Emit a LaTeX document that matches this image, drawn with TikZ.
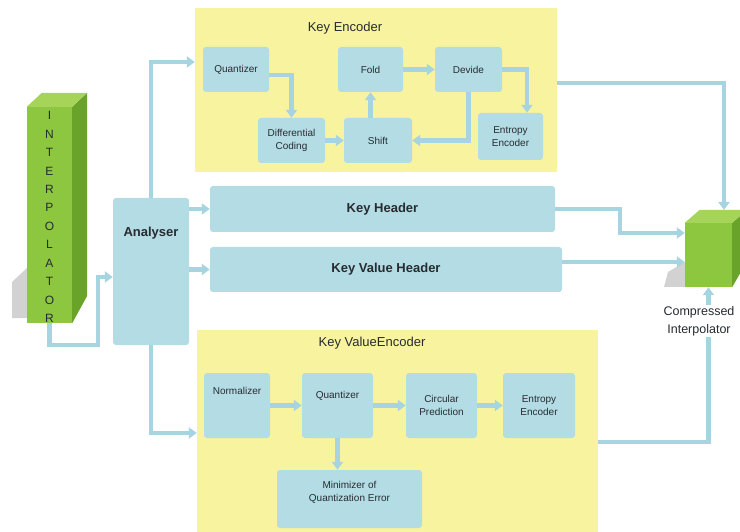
\documentclass[tikz,border=0pt]{standalone}
\usepackage{fontspec}
\setmainfont{Liberation Sans}
\usetikzlibrary{arrows.meta}
\definecolor{panelyellow}{RGB}{248,243,158}
\definecolor{blkblue}{RGB}{180,220,229}
\definecolor{flowblue}{RGB}{166,213,225}
\definecolor{greenfront}{RGB}{141,198,63}
\definecolor{greenside}{RGB}{106,163,42}
\definecolor{greentop}{RGB}{165,212,88}
\definecolor{txt}{RGB}{38,44,48}

\begin{document}
\begin{tikzpicture}[x=1pt,y=-1pt,
   blk/.style={fill=blkblue,rounded corners=3pt,inner sep=2pt,align=center,
     text=txt,font=\fontsize{10}{13}\selectfont},
   panel/.style={fill=panelyellow,inner sep=0pt},
   head/.style={fill=blkblue,rounded corners=3pt,text=txt,font=\fontsize{13}{15}\selectfont\bfseries},
   ttl/.style={text=txt,font=\fontsize{13}{15}\selectfont},
   flow/.style={draw=flowblue,line width=4.5pt,-{Triangle[width=11pt,length=8pt]}}]
   \useasboundingbox (0,0) rectangle (740,532);
   \clip (0,0) rectangle (740,532);

   % interpolator column
   \fill[gray!35] (27,268) -- (12,282) -- (12,318) -- (27,318) -- cycle;
   \node[fill=greenfront,minimum width=45pt,minimum height=216pt,inner sep=0pt] (interp) at (49.5,215) {};
   \fill[greenside] (interp.north east) -- ++(15,-14) -- ++(0,203) -- (interp.south east) -- cycle;
   \fill[greentop] (interp.north west) -- ++(15,-14) -- ++(45,0) -- (interp.north east) -- cycle;
   \node[text=txt,align=center,font=\fontsize{12}{18.45}\selectfont] (interptext) at (49.5,217)
     {I\\N\\T\\E\\R\\P\\O\\L\\A\\T\\O\\R};

   % compressed interpolator
   \fill[gray!35] (685,262) -- (668,272) -- (664,287) -- (685,287) -- cycle;
   \node[fill=greenfront,minimum width=47pt,minimum height=64pt,inner sep=0pt] (cube) at (708.5,255) {};
   \fill[greenside] (cube.north east) -- ++(15,-13) -- ++(0,51) -- (cube.south east) -- cycle;
   \fill[greentop] (cube.north west) -- ++(15,-13) -- ++(47,0) -- (cube.north east) -- cycle;
   \coordinate (cubetop) at (724,210);

   % panels
   \node[panel,minimum width=362pt,minimum height=164pt] (kenc) at (376,90) {};
   \node[ttl] (kenctitle) at (345,28) {Key Encoder};
   \node[panel,minimum width=401pt,minimum height=215pt] (kvenc) at (397.5,437.5) {};
   \node[ttl] (kvenctitle) at (372,343) {Key ValueEncoder};

   % analyser and headers
   \node[head,minimum width=76pt,minimum height=147pt,text depth=80pt] (analyser) at (151,271.5) {Analyser};
   \node[head,minimum width=345pt,minimum height=46pt] (khead) at (382.5,209) {Key Header};
   \node[head,minimum width=352pt,minimum height=45pt] (kvhead) at (386,269.5) {Key Value Header};

   % key encoder blocks
   \node[blk,minimum width=66pt,minimum height=45pt] (kq) at (236,69.5) {Quantizer};
   \node[blk,minimum width=65pt,minimum height=45pt] (kfold) at (370.5,69.5) {Fold};
   \node[blk,minimum width=67pt,minimum height=45pt] (kdev) at (468.5,69.5) {Devide};
   \node[blk,minimum width=67pt,minimum height=45pt] (kdiff) at (291.5,140.5) {Differential\\Coding};
   \node[blk,minimum width=68pt,minimum height=45pt] (kshift) at (378,140.5) {Shift};
   \node[blk,minimum width=65pt,minimum height=47pt] (kent) at (510.5,136.5) {Entropy\\Encoder};

   % key value encoder blocks
   \node[blk,minimum width=66pt,minimum height=65pt,text depth=30pt] (vn) at (237,405.5) {Normalizer};
   \node[blk,minimum width=71pt,minimum height=65pt,text depth=22pt] (vq) at (337.5,405.5) {Quantizer};
   \node[blk,minimum width=71pt,minimum height=65pt] (vc) at (441.5,405.5) {Circular\\Prediction};
   \node[blk,minimum width=72pt,minimum height=65pt] (ve) at (539,405.5) {Entropy\\Encoder};
   \node[blk,minimum width=145pt,minimum height=58pt,text depth=16pt] (vm) at (349.5,499) {Minimizer of\\Quantization Error};

   % connectors
   \draw[flow] (interp.south) |- (98,345) |- (analyser.west |- 0,277);
   \draw[flow] (analyser.north) |- (kenc.west |- 0,62);
   \draw[flow] (analyser.south) |- (kvenc.west |- 0,433);
   \draw[flow] (analyser.east |- khead.west) -- (khead.west);
   \draw[flow] (analyser.east |- kvhead.west) -- (kvhead.west);

   \draw[flow] (kq.east |- 0,75) -| (kdiff.north);
   \draw[flow] (kdiff.east) -- (kshift.west);
   \draw[flow] (kfold.south |- kshift.north) -- (kfold.south);
   \draw[flow] (kfold.east) -- (kdev.west);
   \draw[flow] (kdev.east) -| (kent.north -| 527,0);
   \draw[flow] (kdev.south) |- (kshift.east);

   \draw[flow] (vn.east) -- (vq.west);
   \draw[flow] (vq.east) -- (vc.west);
   \draw[flow] (vc.east) -- (ve.west);
   \draw[flow] (vq.south) -- (vq.south |- vm.north);

   \draw[flow] (kenc.east |- 0,83) -| (cubetop);
   \draw[flow] (khead.east) -| (620,233) -- (cube.west |- 0,233);
   \draw[flow] (kvhead.east |- 0,262) -- (cube.west |- 0,262);
   \draw[flow] (kvenc.east |- 0,442) -| (cube.south);

   \node[fill=white,inner sep=1pt,text=txt,align=center,font=\fontsize{12.5}{18}\selectfont] (cubetext) at (699,321)
     {Compressed\\Interpolator};

\end{tikzpicture}
\end{document}
